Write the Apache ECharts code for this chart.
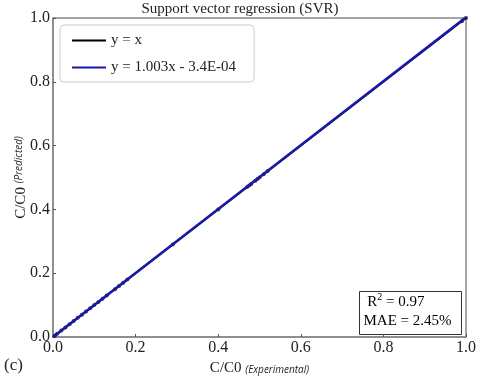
<!DOCTYPE html>
<html><head><meta charset="utf-8">
<script src="https://cdn.jsdelivr.net/npm/echarts@6/dist/echarts.min.js"></script>
<style>html,body{margin:0;padding:0;background:#fff}#c{width:480px;height:381px}</style>
</head><body><div id="c"></div>
<script>
var xTicks = [0.0, 0.2, 0.4, 0.6, 0.8, 1.0];
var expX = [0.005,0.01,0.02,0.03,0.04,0.05,0.06,0.07,0.08,0.09,0.10,0.11,0.12,0.13,0.15,0.16,0.17,0.18,0.29,0.40,0.47,0.475,0.48,0.49,0.495,0.50,0.51,0.52,0.99,1.0];
var predY = [0.005,0.01,0.02,0.03,0.04,0.05,0.06,0.07,0.08,0.09,0.10,0.11,0.12,0.13,0.15,0.16,0.17,0.18,0.29,0.40,0.47,0.475,0.48,0.49,0.495,0.50,0.51,0.52,0.99,1.0];
var identity = [[0,0],[1,1]];
var slope = 1.003, intercept = -0.00034;
var fitLine = [[0, intercept], [1, slope + intercept]];
var serif = '"Liberation Serif", "DejaVu Serif", serif';
var pts = expX.map(function(x,i){return [x, predY[i]];});
var chart = echarts.init(document.getElementById('c'));
var axisCommon = {
  min: 0, max: 1, interval: 0.2,
  axisLine: {show: true, lineStyle: {color: '#888', width: 1.5}},
  axisTick: {show: true, inside: true, length: 3, lineStyle: {color: '#555'}},
  splitLine: {show: false},
  axisLabel: {color: '#222', fontFamily: serif, fontSize: 16, formatter: function(v){return v.toFixed(1);}}
};
chart.setOption({
  animation: false,
  title: {text: 'Support vector regression (SVR)', left: 'center', top: -3,
    textStyle: {fontFamily: serif, fontSize: 15, fontWeight: 'normal', color: '#222'}},
  grid: {left: 53, right: 14, top: 18, bottom: 39, show: true, borderColor: '#888', borderWidth: 1.5, backgroundColor: 'transparent'},
  legend: {
    orient: 'vertical', left: 60, top: 25, padding: [8, 18, 7, 12],
    borderColor: '#ccc', borderWidth: 1, borderRadius: 4, backgroundColor: '#fff',
    itemWidth: 34, itemHeight: 2, itemGap: 12, icon: 'rect',
    textStyle: {fontFamily: serif, fontSize: 15, color: '#222'},
    data: ['y = x', 'y = 1.003x - 3.4E-04']
  },
  xAxis: Object.assign({}, axisCommon, {
    type: 'value', position: 'bottom',
    name: 'C/C0 {i|(Experimental)}', nameLocation: 'middle', nameGap: 24, nameMoveOverlap: false,
    nameTextStyle: {fontFamily: serif, fontSize: 15, color: '#222',
      rich: {i: {fontFamily: '"Open Sans", sans-serif', fontStyle: 'italic', fontSize: 10, color: '#222', padding: [4,0,0,0]}}},
    axisLabel: Object.assign({}, axisCommon.axisLabel, {margin: 3})
  }),
  yAxis: Object.assign({}, axisCommon, {
    type: 'value',
    name: 'C/C0 {i|(Predicted)}', nameLocation: 'middle', nameGap: 24, nameRotate: 90, nameMoveOverlap: false,
    nameTextStyle: {fontFamily: serif, fontSize: 15, color: '#222',
      rich: {i: {fontFamily: '"Open Sans", sans-serif', fontStyle: 'italic', fontSize: 10, color: '#222', padding: [0,0,4,0]}}},
    axisLabel: Object.assign({}, axisCommon.axisLabel, {margin: 3})
  }),
  graphic: [{
    type: 'group', right: 18, bottom: 46,
    children: [
      {type: 'rect', shape: {x: 0, y: 0, width: 102, height: 43}, style: {fill: '#fff', stroke: '#333', lineWidth: 1}},
      {type: 'text', left: 4, top: 1, style: {
        text: '{a| R}{s|2}{a| = 0.97}\n{a|MAE = 2.45%}',
        rich: {a: {fontFamily: serif, fontSize: 15, color: '#222', lineHeight: 19},
               s: {fontFamily: serif, fontSize: 10, color: '#222', verticalAlign: 'top', lineHeight: 12, padding: [0,0,6,0]}}
      }}
    ]
  }, {
    type: 'text', left: 4, top: 357,
    style: {text: '(c)', fontFamily: serif, fontSize: 17, fill: '#222'}
  }],
  series: [
    {name: 'y = x', type: 'line', data: identity, symbol: 'none', lineStyle: {color: '#000', width: 2}, itemStyle: {color: '#000'}, z: 2},
    {name: 'pts', type: 'scatter', data: pts, symbolSize: 4, itemStyle: {color: '#111'}, z: 3},
    {name: 'y = 1.003x - 3.4E-04', type: 'line', data: fitLine, symbol: 'none', lineStyle: {color: '#1a1aaa', width: 2.5}, itemStyle: {color: '#1a1aaa'}, z: 4}
  ]
});
</script></body></html>
